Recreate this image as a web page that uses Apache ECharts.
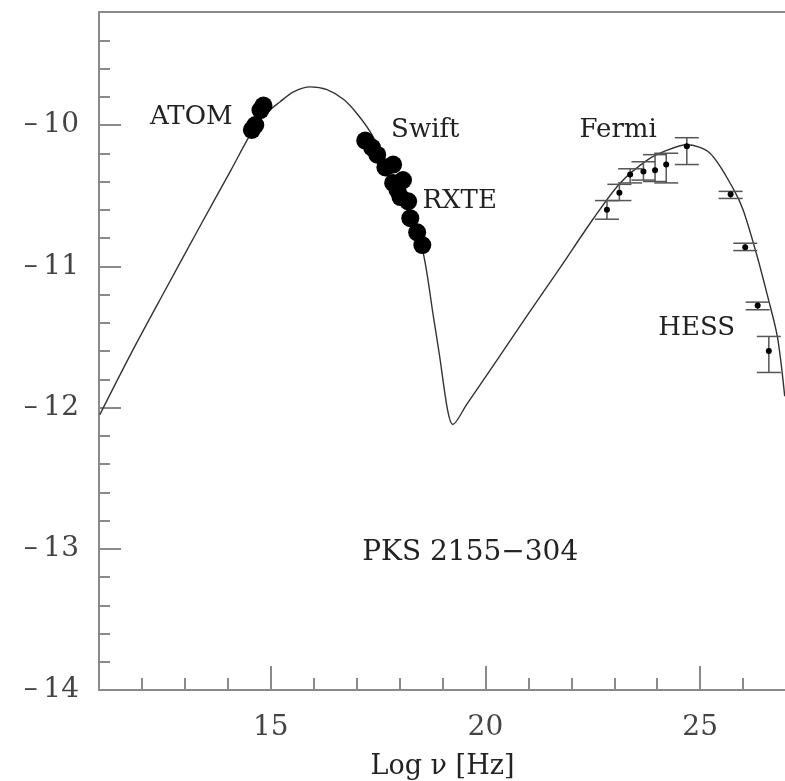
<!DOCTYPE html>
<html>
<head>
<meta charset="utf-8">
<script src="https://cdn.jsdelivr.net/npm/echarts@6/dist/echarts.min.js"></script>
<style>
  html, body { margin: 0; padding: 0; background: #fff; }
  #chart { width: 785px; height: 781px; }
</style>
</head>
<body>
<div id="chart"></div>
<script>
// model curve (log nu, log nuFnu)
const sedX = [11.02, 11.76, 12.54, 13.31, 14.09, 14.52, 14.85, 15.22, 15.53, 15.92, 16.31, 16.70, 17.01, 17.32, 17.65, 18.0, 18.3, 18.56, 18.79, 18.93, 19.12, 19.24, 19.56, 20.19, 20.97, 21.74, 22.52, 23.14, 23.76, 24.22, 24.69, 25.23, 25.77, 26.0, 26.31, 26.57, 26.80, 26.97];
const sedY = [-12.05, -11.61, -11.17, -10.74, -10.31, -10.07, -9.93, -9.835, -9.765, -9.73, -9.75, -9.82, -9.92, -10.05, -10.24, -10.46, -10.67, -10.92, -11.36, -11.63, -12.02, -12.12, -11.98, -11.70, -11.35, -11.01, -10.66, -10.41, -10.25, -10.18, -10.14, -10.20, -10.45, -10.60, -10.91, -11.21, -11.50, -11.92];

// ATOM optical points
const atomX = [14.83, 14.76, 14.64, 14.56];
const atomY = [-9.862, -9.894, -10.0, -10.035];

// Swift / RXTE X-ray points
const xrayX = [17.20, 17.36, 17.48, 17.67, 17.85, 17.85, 18.08, 17.95, 18.02, 18.20, 18.25, 18.41, 18.53];
const xrayY = [-10.11, -10.16, -10.21, -10.30, -10.28, -10.41, -10.39, -10.46, -10.51, -10.54, -10.66, -10.76, -10.85];

// Fermi points with errors
const fermiX = [22.83, 23.12, 23.37, 23.68, 23.95, 24.21, 24.69];
const fermiY = [-10.60, -10.48, -10.35, -10.33, -10.32, -10.28, -10.15];
const fermiLo = [-10.667, -10.535, -10.41, -10.39, -10.40, -10.41, -10.28];
const fermiHi = [-10.535, -10.42, -10.31, -10.26, -10.21, -10.20, -10.09];

// HESS points with errors
const hessX = [25.71, 26.05, 26.34, 26.60];
const hessY = [-10.49, -10.865, -11.278, -11.60];
const hessLo = [-10.52, -10.889, -11.308, -11.752];
const hessHi = [-10.47, -10.837, -11.254, -11.497];

// text labels in data coordinates
const labelNames = ['ATOM', 'Swift', 'RXTE', 'Fermi', 'HESS', 'PKS 2155\u2212304'];
const labelX = [13.15, 18.6, 19.40, 23.09, 24.92, 19.645];
const labelY = [-9.943, -10.035, -10.54, -10.035, -11.44, -13.03];

const xMajor = [15, 20, 25];

const axisColor = '#8a8a8a';
const inkColor = '#222';
const serif = 'DejaVu Serif';

const zip = (a, b) => a.map((v, i) => [v, b[i]]);

const chart = echarts.init(document.getElementById('chart'), null, { renderer: 'canvas' });

function errorBars(xs, los, his) {
  return {
    type: 'custom',
    xAxisIndex: 0,
    yAxisIndex: 0,
    data: xs.map((x, i) => [x, los[i], his[i]]),
    renderItem: function (params, api) {
      const lo = api.coord([api.value(0), api.value(1)]);
      const hi = api.coord([api.value(0), api.value(2)]);
      const w = 12;
      const style = { stroke: '#555', lineWidth: 1.5 };
      return {
        type: 'group',
        children: [
          { type: 'line', shape: { x1: lo[0], y1: lo[1], x2: hi[0], y2: hi[1] }, style: style },
          { type: 'line', shape: { x1: lo[0] - w, y1: lo[1], x2: lo[0] + w, y2: lo[1] }, style: style },
          { type: 'line', shape: { x1: hi[0] - w, y1: hi[1], x2: hi[0] + w, y2: hi[1] }, style: style }
        ]
      };
    },
    silent: true,
    z: 3
  };
}

// negative tick labels: short dash with a small gap, like the original plot
function yLabel(v) {
  if (!Number.isInteger(v)) return '';
  return v < 0 ? '\u2013\u2009' + Math.abs(v) : String(v);
}

const option = {
  animation: false,
  backgroundColor: '#fff',
  grid: {
    left: 99, right: -1, top: 12, bottom: 91,
    outerBoundsMode: 'none',
    show: true, borderColor: axisColor, borderWidth: 2, backgroundColor: 'transparent'
  },
  xAxis: [
    {
      type: 'value', min: 11, max: 27, interval: 1, position: 'bottom',
      name: 'Log \u03bd [Hz]', nameLocation: 'middle', nameGap: 63,
      nameTextStyle: { fontFamily: serif, fontSize: 27, color: inkColor },
      axisLine: { show: true, lineStyle: { color: axisColor, width: 2 } },
      axisTick: { show: true, inside: true, length: 12, lineStyle: { color: axisColor, width: 2 } },
      axisLabel: {
        customValues: xMajor, margin: 24,
        fontFamily: serif, fontSize: 28, color: '#444'
      },
      splitLine: { show: false }
    },
    {
      type: 'value', min: 11, max: 27, position: 'bottom',
      axisLine: { show: false },
      axisTick: { show: true, inside: true, length: 24, customValues: xMajor, lineStyle: { color: axisColor, width: 2 } },
      axisLabel: { show: false },
      splitLine: { show: false }
    }
  ],
  yAxis: [
    {
      type: 'value', min: -14, max: -9.2, interval: 1, position: 'left',
      axisLine: { show: true, lineStyle: { color: axisColor, width: 2 } },
      axisTick: { show: true, inside: true, length: 22, lineStyle: { color: axisColor, width: 2 } },
      axisLabel: {
        margin: 20, fontFamily: serif, fontSize: 28, color: '#444',
        formatter: yLabel
      },
      splitLine: { show: false }
    },
    {
      type: 'value', min: -14, max: -9.2, interval: 0.2, position: 'left',
      axisLine: { show: false },
      axisTick: { show: true, inside: true, length: 11, lineStyle: { color: axisColor, width: 2 } },
      axisLabel: { show: false },
      splitLine: { show: false }
    }
  ],
  series: [
    {
      type: 'line',
      data: zip(sedX, sedY),
      smooth: 0.3,
      showSymbol: false,
      lineStyle: { color: '#333', width: 1.4 },
      z: 2
    },
    {
      type: 'scatter',
      data: zip(atomX, atomY),
      symbolSize: 18,
      itemStyle: { color: '#000', opacity: 1 },
      z: 4
    },
    {
      type: 'scatter',
      data: zip(xrayX, xrayY),
      symbolSize: 18,
      itemStyle: { color: '#000', opacity: 1 },
      z: 4
    },
    errorBars(fermiX, fermiLo, fermiHi),
    errorBars(hessX, hessLo, hessHi),
    {
      type: 'scatter',
      data: zip(fermiX, fermiY).concat(zip(hessX, hessY)),
      symbolSize: 6,
      itemStyle: { color: '#000', opacity: 1 },
      z: 5
    },
    {
      type: 'scatter',
      data: labelNames.map((n, i) => ({
        name: n,
        value: [labelX[i], labelY[i]],
        label: i === labelNames.length - 1 ? { fontSize: 28 } : undefined
      })),
      symbolSize: 0,
      silent: true,
      itemStyle: { opacity: 1 },
      label: {
        show: true,
        position: 'inside',
        formatter: p => p.name,
        fontFamily: serif,
        fontSize: 26,
        color: inkColor,
        opacity: 1
      },
      z: 6
    }
  ]
};

chart.setOption(option);
</script>
</body>
</html>
